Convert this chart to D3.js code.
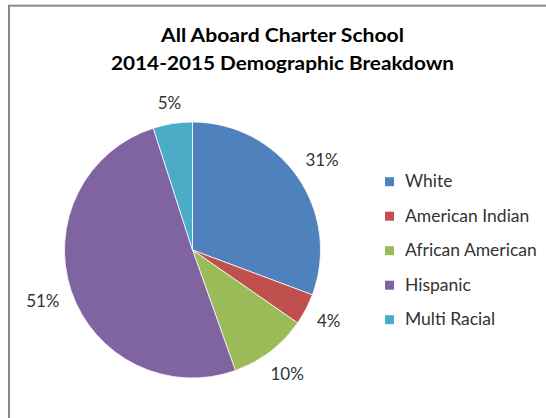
<!DOCTYPE html>
<html>
<head>
<meta charset="utf-8">
<script src="https://cdn.jsdelivr.net/npm/d3@7"></script>
<style>
  body { margin: 0; background: #fff; }
  text { font-family: Lato, "Open Sans", sans-serif; }
</style>
</head>
<body>
<script>
// 数据
const categories = ['White', 'American Indian', 'African American', 'Hispanic', 'Multi Racial'];
const values = [31, 4, 10, 51, 5];
const colors = ['#4f81bd', '#c0504d', '#9bbb59', '#8064a2', '#4bacc6'];
const title_lines = ['All Aboard Charter School', '2014-2015 Demographic Breakdown'];
// 标题每行宽度 (按参考图量得)
const title_widths = [243, 343];

// 画布大小
const width = 546;
const height = 418;
const [cx, cy] = [192.5, 250];
const radius = 128;
// 数据标签到圆心的距离 (文字框外缘)
const label_gap = 140;

const svg = d3.select('body')
    .append('svg')
    .attr('width', width)
    .attr('height', height);

svg.append('rect')
    .attr('width', width)
    .attr('height', height)
    .attr('fill', 'white');

// 图表边框 (右侧和下侧超出画面)
svg.append('rect')
    .attr('x', 9)
    .attr('y', 5.7)
    .attr('width', 700)
    .attr('height', 600)
    .attr('fill', 'none')
    .attr('stroke', '#888')
    .attr('stroke-width', 2);

// 标题
svg.append('g')
    .selectAll('text')
    .data(title_lines).enter()
    .append('text')
    .attr('x', 282.5)
    .attr('y', (d, i) => 41.7 + i * 28.3)
    .attr('text-anchor', 'middle')
    .attr('font-size', 18.5)
    .attr('font-weight', 'bold')
    .attr('fill', '#000')
    .attr('textLength', (d, i) => title_widths[i])
    .attr('lengthAdjust', 'spacingAndGlyphs')
    .text(d => d);

// 饼图
const pie = d3.pie().sort(null).value(d => d.value);
const arcs = pie(categories.map((c, i) => ({ name: c, value: values[i], color: colors[i] })));
const arc = d3.arc().innerRadius(0).outerRadius(radius);

const g = svg.append('g').attr('transform', `translate(${cx},${cy})`);
g.selectAll('path')
    .data(arcs).enter()
    .append('path')
    .attr('d', arc)
    .attr('fill', d => d.data.color)
    .attr('stroke', 'white')
    .attr('stroke-width', 0.75);

// 数据标签: 文字框放在扇区外侧
g.selectAll('text')
    .data(arcs).enter()
    .append('text')
    .attr('text-anchor', 'middle')
    .attr('dy', '0.36em')
    .attr('font-size', 17)
    .attr('fill', '#333')
    .text(d => d.data.value + '%')
    .each(function(d) {
        const a = (d.startAngle + d.endAngle) / 2;
        const ux = Math.sin(a), uy = -Math.cos(a);
        const hw = this.getComputedTextLength() / 2;
        const hh = 7;
        const dist = label_gap + hw * Math.abs(ux) + hh * Math.abs(uy);
        d3.select(this).attr('x', dist * ux).attr('y', dist * uy);
    });

// 图例
const legend = svg.append('g').attr('transform', 'translate(385,181.7)');
const rows = legend.selectAll('g')
    .data(categories).enter()
    .append('g')
    .attr('transform', (d, i) => `translate(0,${i * 34.5})`);
rows.append('rect')
    .attr('x', 0)
    .attr('y', -4.5)
    .attr('width', 9)
    .attr('height', 9)
    .attr('fill', (d, i) => colors[i]);
rows.append('text')
    .attr('x', 20)
    .attr('y', 5.5)
    .attr('font-size', 17.5)
    .attr('fill', '#333')
    .text(d => d);
</script>
</body>
</html>
